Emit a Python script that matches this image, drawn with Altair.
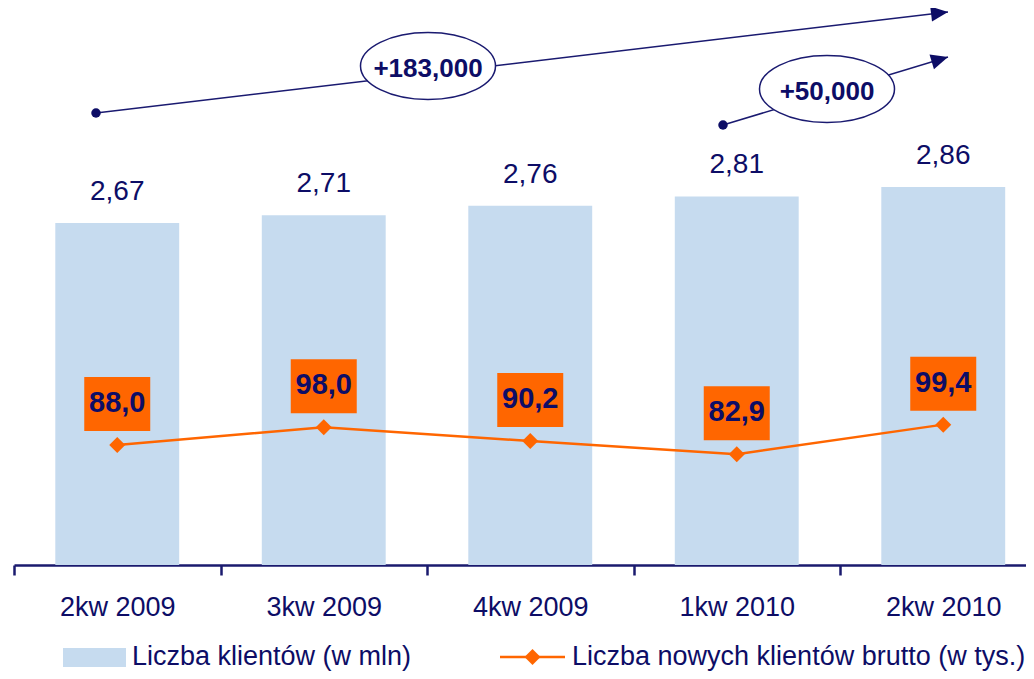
import math
import altair as alt
import pandas as pd

# ---------------- data ----------------
QUARTERS = ["2kw 2009", "3kw 2009", "4kw 2009", "1kw 2010", "2kw 2010"]
CLIENTS_MLN = [2.67, 2.71, 2.76, 2.81, 2.86]
NEW_CLIENTS_TYS = [88.0, 98.0, 90.2, 82.9, 99.4]
GROWTH_LABELS = ["+183,000", "+50,000"]
LEGEND_LABELS = ["Liczba klientów (w mln)", "Liczba nowych klientów brutto (w tys.)"]

# ---------------- layout / style ----------------
PLOT_W = 1012
PLOT_H = 557
X_RANGE = [0, 1032.5]
BAR_DOMAIN = [0.865, 3.804]
LINE_DOMAIN = [20.9, 332.4]

NAVY = "#0d0d66"
AXIS_NAVY = "#1a1a6e"
LINE_NAVY = "#1a1a70"
BAR_BLUE = "#c6dbef"
ORANGE = "#ff6600"
FONT = "Liberation Sans"

# annotation arrows (pixel coords in plot area)
ARROW_START = [(82, 105), (709, 117)]
ARROW_END = [(934, 4), (934, 49)]
ELLIPSE_CENTER = [(414, 58), (813, 81)]
TEXT_BASE_DY = 11

# legend (pixel coords in plot area)
LEG_RECT = (49, 112, 640, 659)
LEG_LINE = (486, 551, 649)
LEG_TEXT_X = [118, 558]
LEG_TEXT_Y = 657

BOX_PATH = "M-1.2222,-2.5185H1.2222V-0.5185H-1.2222Z"
ARROW_PATH = "M0,0L-2,-0.9L-2,0.9Z"
a, b, k = 1.35, 0.67, 0.5523
ELLIPSE_PATH = (
    f"M{a},0C{a},{k*b:.4f} {k*a:.4f},{b} 0,{b}"
    f"C{-k*a:.4f},{b} {-a},{k*b:.4f} {-a},0"
    f"C{-a},{-k*b:.4f} {-k*a:.4f},{-b} 0,{-b}"
    f"C{k*a:.4f},{-b} {a},{-k*b:.4f} {a},0Z"
)

df = pd.DataFrame({"quarter": QUARTERS, "clients": CLIENTS_MLN, "new": NEW_CLIENTS_TYS})

x_enc = alt.X(
    "quarter:N",
    sort=QUARTERS,
    scale=alt.Scale(range=X_RANGE, paddingInner=0, paddingOuter=0),
    axis=alt.Axis(
        title=None, labelAngle=0, grid=False,
        domainColor=AXIS_NAVY, domainWidth=2.5,
        tickColor=AXIS_NAVY, tickWidth=2.5, tickSize=10, tickBand="extent",
        labelFont=FONT, labelFontSize=27, labelColor=NAVY,
        labelBaseline="alphabetic", labelPadding=40,
    ),
)
bar_y = alt.Y("clients:Q", scale=alt.Scale(domain=BAR_DOMAIN, zero=False, nice=False), axis=None)
line_y = alt.Y("new:Q", scale=alt.Scale(domain=LINE_DOMAIN, zero=False, nice=False), axis=None)

base = alt.Chart(df)

bars = base.mark_bar(color=BAR_BLUE, width=alt.RelativeBandSize(0.6)).encode(
    x=x_enc, y=bar_y, y2=alt.datum(BAR_DOMAIN[0])
)
bar_labels = base.transform_calculate(
    lbl="replace(format(datum.clients, '.2f'), '.', ',')"
).mark_text(font=FONT, fontSize=28, color=NAVY, dy=-23, baseline="alphabetic").encode(
    x=x_enc, y=bar_y, text="lbl:N"
)

line = base.mark_line(color=ORANGE, strokeWidth=2.5).encode(x=x_enc, y=line_y)
diamonds = base.mark_point(shape="diamond", filled=True, size=256, color=ORANGE, opacity=1).encode(
    x=x_enc, y=line_y
)
boxes = base.mark_point(shape=BOX_PATH, filled=True, size=2916, color=ORANGE, opacity=1, strokeWidth=0).encode(
    x=x_enc, y=line_y
)
box_labels = base.transform_calculate(
    lbl="replace(format(datum.new, '.1f'), '.', ',')"
).mark_text(font=FONT, fontSize=29, fontWeight="bold", color=NAVY, dy=-33, baseline="alphabetic").encode(
    x=x_enc, y=line_y, text="lbl:N"
)

ann = pd.DataFrame({
    "label": GROWTH_LABELS,
    "x1": [p[0] for p in ARROW_START],
    "y1": [p[1] for p in ARROW_START],
    "x2": [p[0] for p in ARROW_END],
    "y2": [p[1] for p in ARROW_END],
    "cx": [p[0] for p in ELLIPSE_CENTER],
    "cy": [p[1] for p in ELLIPSE_CENTER],
})
ann["ty"] = ann["cy"] + TEXT_BASE_DY
ann["angle"] = [
    (math.degrees(math.atan2(e[1] - s[1], e[0] - s[0])) + 360) % 360
    for s, e in zip(ARROW_START, ARROW_END)
]
abase = alt.Chart(ann)
arrows = abase.mark_rule(color=LINE_NAVY, strokeWidth=1.5).encode(
    x=alt.X("x1:Q", scale=None), y=alt.Y("y1:Q", scale=None), x2="x2:Q", y2="y2:Q"
)
dots = abase.mark_point(shape="circle", filled=True, size=90, color=NAVY, opacity=1).encode(
    x=alt.X("x1:Q", scale=None), y=alt.Y("y1:Q", scale=None)
)
heads = abase.mark_point(shape=ARROW_PATH, filled=True, size=289, color=NAVY, opacity=1).encode(
    x=alt.X("x2:Q", scale=None), y=alt.Y("y2:Q", scale=None), angle=alt.Angle("angle:Q", scale=None)
)
ellipses = abase.mark_point(
    shape=ELLIPSE_PATH, filled=False, fill="white", stroke=LINE_NAVY, strokeWidth=1.5, size=10000, opacity=1
).encode(x=alt.X("cx:Q", scale=None), y=alt.Y("cy:Q", scale=None))
ann_text = abase.mark_text(font=FONT, fontSize=26, fontWeight="bold", color=NAVY, baseline="alphabetic").encode(
    x=alt.X("cx:Q", scale=None), y=alt.Y("ty:Q", scale=None), text="label:N"
)

one = pd.DataFrame({"a": [0]})
leg_rect = alt.Chart(one).mark_rect(color=BAR_BLUE).encode(
    x=alt.value(LEG_RECT[0]), x2=alt.value(LEG_RECT[1]), y=alt.value(LEG_RECT[2]), y2=alt.value(LEG_RECT[3])
)
leg_line = alt.Chart(one).mark_rule(color=ORANGE, strokeWidth=2.5).encode(
    x=alt.value(LEG_LINE[0]), x2=alt.value(LEG_LINE[1]), y=alt.value(LEG_LINE[2])
)
leg_diamond = alt.Chart(one).mark_point(shape="diamond", filled=True, size=256, color=ORANGE, opacity=1).encode(
    x=alt.value((LEG_LINE[0] + LEG_LINE[1]) / 2), y=alt.value(LEG_LINE[2])
)
leg_df = pd.DataFrame({"label": LEGEND_LABELS, "tx": LEG_TEXT_X, "ty": [LEG_TEXT_Y] * 2})
leg_text = alt.Chart(leg_df).mark_text(
    font=FONT, fontSize=27, color=NAVY, align="left", baseline="alphabetic"
).encode(x=alt.X("tx:Q", scale=None), y=alt.Y("ty:Q", scale=None), text="label:N")

chart = alt.layer(
    bars, bar_labels, line, diamonds, boxes, box_labels,
    arrows, dots, heads, ellipses, ann_text,
    leg_rect, leg_line, leg_diamond, leg_text,
).resolve_scale(y="independent").properties(
    width=PLOT_W, height=PLOT_H,
    autosize=alt.AutoSizeParams(type="none"),
    padding={"left": 6, "top": 0, "right": 0, "bottom": 106},
).configure_view(stroke=None)

chart.save("out.html", embed_options={"renderer": "svg", "actions": False})
